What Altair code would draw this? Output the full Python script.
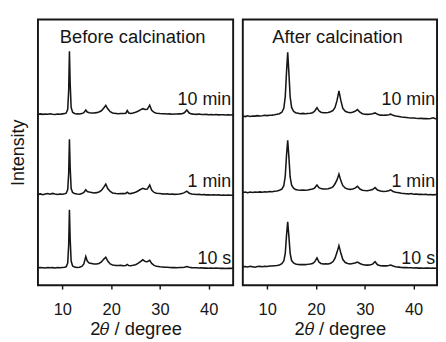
import altair as alt
import pandas as pd

# ---------------- data ----------------
trace_names = ["10 min", "1 min", "10 s"]
panel_titles = ["Before calcination", "After calcination"]
x_ticks = [10, 20, 30, 40]

# Before calcination (left panel)
left_x = [5, 5.5, 6, 6.5, 7, 7.5, 8, 8.5, 9, 9.5,
          10, 10.5, 10.8, 11.1, 11.3, 11.45, 11.6, 11.8, 12.1, 12.5,
          13, 13.5, 14, 14.4, 14.8, 15.1, 15.5, 16, 16.5, 17,
          17.5, 18, 18.5, 18.9, 19.3, 19.8, 20.3, 21, 21.5, 22,
          22.5, 23, 23.3, 23.6, 24, 24.5, 25, 25.5, 26, 26.5,
          27, 27.4, 27.9, 28.3, 28.8, 29.3, 30, 30.5, 31, 31.5,
          32, 32.5, 33, 33.5, 34, 34.5, 35, 35.5, 36, 36.5,
          37, 37.5, 38, 38.5, 39, 39.5, 40, 40.5, 41, 41.5,
          42, 42.5, 43, 43.5, 44, 44.5, 45]
left_10min = [0, 0.3, -0.2, 0.2, 0, 0.4, 0, -0.3, 0.2, 0,
              0.3, 0.6, 1.2, 5, 25, 65, 32, 7, 2, 0.8,
              0.3, 0.2, 0.6, 1.5, 4.3, 2.2, 1.5, 1.2, 1.3, 1.6,
              2.2, 3.5, 6.5, 9, 5.5, 2.5, 1.2, 0.8, 0.5, 0.7,
              0.6, 1, 3.7, 1.2, 0.8, 1.2, 2, 3, 4.5, 5.7,
              4.8, 5, 9.3, 4, 1.8, 1, 0.6, 0.4, 0.5, 0.2,
              0.3, 0, 0.2, 0.1, 0.3, 0.5, 1.5, 4.3, 1.2, 0.3,
              0, -0.2, 0.1, -0.3, -0.4, -0.2, -0.5, -0.3, -0.6, -0.4,
              -0.7, -0.5, -0.6, -0.8, -0.6, -0.9, -0.7]
left_1min = [0, 0.5, -0.3, 0.4, 0.8, 0.2, 1, 0.3, -0.2, 0.4,
             0.2, 0.6, 1.2, 5, 22, 57, 28, 6, 2, 0.8,
             0.3, 0.2, 0.8, 2, 4.7, 3, 2.5, 2, 1.5, 1.8,
             2.5, 4, 7.5, 10.7, 6, 3, 1.5, 1, 0.7, 1,
             0.8, 1, 2.3, 1, 0.8, 1.5, 2.2, 3.5, 5, 6.3,
             5.3, 5.5, 9.7, 4.5, 2, 1.2, 0.8, 0.5, 0.3, 0.5,
             0.2, 0.3, 0, 0.2, 0.4, 0.8, 1.8, 3.3, 1.2, 0.4,
             0.1, -0.2, 0, -0.3, -0.2, -0.5, -0.3, -0.6, -0.4, -0.7,
             -0.5, -0.8, -0.6, -0.9, -0.7, -1, -0.8]
left_10s = [0, 0.3, 0.1, -0.2, 0.3, 0, 0.2, -0.1, 0.3, 0.1,
            0.4, 0.6, 1.3, 5, 24, 60, 30, 7, 2, 0.8,
            0.4, 0.5, 1.5, 4, 11.7, 7, 5, 4.5, 4, 4,
            4.5, 6, 9, 11, 7, 4, 3, 2.5, 2.3, 2.5,
            2.2, 2.5, 3.5, 2.3, 2.2, 2.6, 3.2, 4.5, 6.5, 8.3,
            6.5, 6.3, 7.7, 4.5, 2.5, 1.5, 1, 0.8, 0.5, 0.6,
            0.3, 0.2, 0.4, 0.1, 0.3, 0.3, 0.6, 1.3, 0.5, 0.2,
            0, 0.1, -0.2, 0, -0.3, -0.1, -0.4, -0.2, -0.5, -0.3,
            -0.4, -0.6, -0.4, -0.7, -0.5, -0.6, -0.5]
left_offsets = [177, 94, 18]

# After calcination (right panel)
right_x = [5, 5.5, 6, 6.5, 7, 7.5, 8, 8.5, 9, 9.5,
           10, 10.5, 11, 11.5, 12, 12.5, 13, 13.4, 13.7, 13.95,
           14.2, 14.45, 14.7, 15, 15.4, 15.8, 16.3, 16.8, 17.3, 17.8,
           18.3, 18.8, 19.3, 19.7, 20.2, 20.6, 21, 21.5, 22, 22.5,
           23, 23.5, 23.9, 24.3, 24.7, 25.1, 25.5, 26, 26.5, 27,
           27.5, 28, 28.5, 29, 29.5, 30, 30.5, 31, 31.6, 32.1,
           32.6, 33.2, 33.8, 34.4, 34.9, 35.3, 35.8, 36.3, 37, 37.5,
           38, 38.5, 39, 39.5, 40, 40.5, 41, 41.5, 42, 42.5,
           43, 43.5, 44, 44.5, 45]
right_10min = [0, -0.5, 0.3, -0.3, 0.2, 0, 0.5, 0.2, 0.4, 0.8,
               0.5, 0.9, 1, 1.3, 1.8, 2.5, 4, 8, 20, 45,
               66, 44, 20, 9, 5, 3.5, 3, 2.5, 2.8, 2.5,
               2.8, 3, 3.5, 5, 8.7, 5.5, 4, 3.5, 3.5, 3.8,
               4.5, 6, 9, 16, 26, 16, 8, 5, 4, 3.5,
               4, 5, 6.7, 4, 2.5, 2, 1.8, 2, 2.5, 3.3,
               1.8, 1, 0.8, 1, 1.5, 2, 0.8, 0, -0.5, -1,
               -1.2, -1.5, -1.8, -2, -2, -2.3, -2.5, -2.2, -2.6, -2.4,
               -2.8, -2.5, -1.8, -2.8, -3]
right_1min = [0, 0.5, -0.3, 0.4, 0, 0.5, 0.2, 0.6, 0.3, 0.7,
              0.5, 1, 0.8, 1.2, 1.6, 2.2, 3.5, 7, 17, 38,
              54, 36, 16, 7.5, 4.5, 3, 2.5, 2.2, 2.5, 2.2,
              2.5, 3, 3.5, 4.5, 7.7, 5, 4, 3.5, 3.5, 3.8,
              4.5, 6, 9, 13, 19, 12, 7, 4.5, 3.5, 3.2,
              3.5, 4.5, 6.3, 3.5, 2.3, 2, 1.8, 2.2, 3, 5,
              2.5, 1.5, 1, 1.2, 1.8, 2.7, 1, 0.2, -0.3, -0.8,
              -1, -1.3, -1.5, -1.2, -1.8, -1.6, -2, -1.8, -2.2, -2,
              -2.3, -2.1, -2.5, -2.2, -2.3]
right_10s = [0, 0.3, -0.2, 0.5, 0.2, -0.3, 0.3, 0.5, 0.2, 0.6,
             0.4, 0.8, 0.9, 1.2, 1.5, 2, 3.2, 6, 14, 32,
             46.7, 31, 14, 6.5, 4, 3, 2.5, 2.3, 2.5, 2.3,
             2.6, 3, 3.5, 5, 9.3, 5, 3.5, 3, 3.2, 3,
             3.8, 5.5, 9, 15, 22, 14, 7.5, 4.5, 3.5, 3,
             3.5, 4, 5, 3.5, 2.5, 2, 1.8, 2, 2.8, 5.3,
             2.2, 1.2, 1, 1, 1.3, 1.8, 0.8, 0, -0.3, -0.6,
             -0.8, -0.7, -1, -0.9, -1.2, -1, -1.3, -1.1, -1.4, -1.2,
             -1.3, -1.5, -1.2, -1.4, -1.3]
right_offsets = [175, 96, 19]

# label positions (intensity units)
label_y = [186.5, 102, 21.5]
title_y = 250.5
title_x = 24.4

# ---------------- build tables ----------------
def build(xs, series, offsets):
    rows = []
    for name, vals, off in zip(trace_names, series, offsets):
        for x, v in zip(xs, vals):
            rows.append({"x": x, "y": v + off, "trace": name})
    return pd.DataFrame(rows)

left_df = build(left_x, [left_10min, left_1min, left_10s], left_offsets)
right_df = build(right_x, [right_10min, right_1min, right_10s], right_offsets)

FONT = "Liberation Sans"
INK = "#161616"
Y_DOMAIN = [0, 275]


def panel(df, title, xdomain, width, show_y):
    xs = alt.Scale(domain=xdomain, nice=False, zero=False)
    ys = alt.Scale(domain=Y_DOMAIN, nice=False, zero=False)
    xaxis = alt.Axis(values=x_ticks, title="2\U0001D703 / degree", grid=False,
                     domain=False, tickSize=4, tickWidth=1.5, tickColor=INK,
                     labelPadding=13, labelFontSize=17, labelFont=FONT,
                     labelColor=INK, titleFont=FONT, titleFontSize=19,
                     titleFontWeight="normal", titleColor=INK, titlePadding=3)
    if show_y:
        yaxis = alt.Axis(title="Intensity", labels=False, ticks=False,
                         domain=False, grid=False, titleFont=FONT,
                         titleFontSize=18.5, titleFontWeight="normal",
                         titleColor=INK, titlePadding=11)
    else:
        yaxis = None
    lines = alt.Chart(df).mark_line(color=INK, strokeWidth=1.6, clip=True).encode(
        x=alt.X("x:Q", scale=xs, axis=xaxis),
        y=alt.Y("y:Q", scale=ys, axis=yaxis),
        detail="trace:N",
    )
    lab_df = pd.DataFrame({"x": [xdomain[1]] * 3, "y": label_y, "t": trace_names})
    labels = alt.Chart(lab_df).mark_text(
        align="right", baseline="alphabetic", dx=-2, font=FONT, fontSize=18.5, color=INK
    ).encode(x=alt.X("x:Q", scale=xs), y=alt.Y("y:Q", scale=ys), text="t:N")
    tdf = pd.DataFrame({"x": [title_x], "y": [title_y], "t": [title]})
    ttl = alt.Chart(tdf).mark_text(
        align="center", baseline="alphabetic", font=FONT, fontSize=19, color=INK
    ).encode(x=alt.X("x:Q", scale=xs), y=alt.Y("y:Q", scale=ys), text="t:N")
    return alt.layer(lines, labels, ttl).properties(width=width, height=275)


left = panel(left_df, panel_titles[0], [5, 45], 202, True)
right = panel(right_df, panel_titles[1], [5, 44.8], 201, False)

chart = alt.hconcat(left, right, spacing=8).properties(
    padding={"left": 0, "top": 5, "right": 0, "bottom": 0}
).configure_view(stroke=INK, strokeWidth=2)

chart.save("out.html", embed_options={"renderer": "svg", "actions": False})
